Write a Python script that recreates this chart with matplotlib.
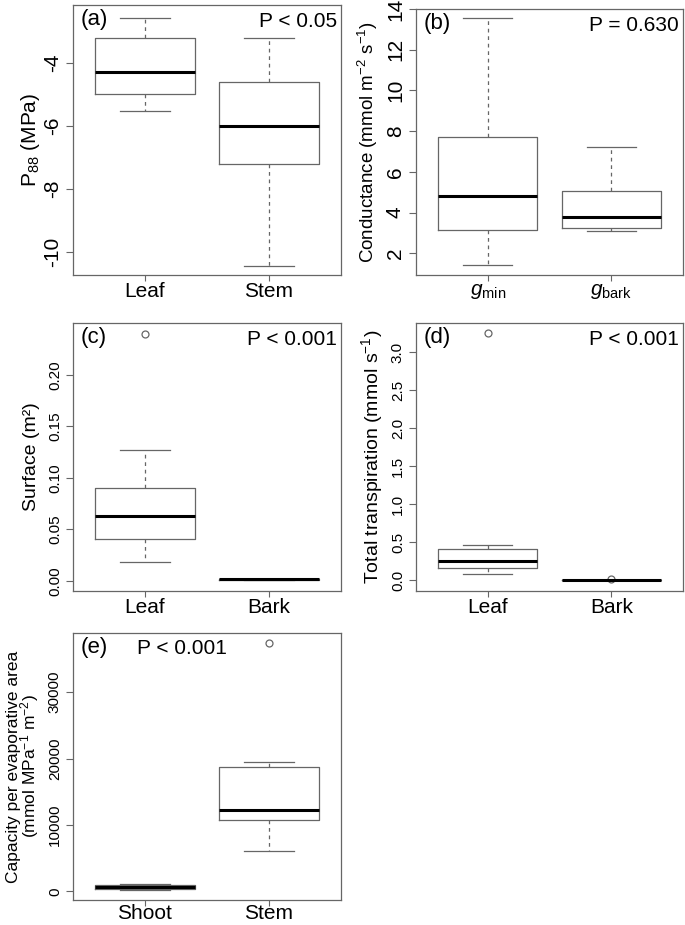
import matplotlib
matplotlib.use("Agg")
import matplotlib.pyplot as plt

plt.rcParams["font.family"] = ["Liberation Sans", "DejaVu Sans"]
plt.rcParams["mathtext.fontset"] = "custom"
plt.rcParams["mathtext.rm"] = "Liberation Sans"
plt.rcParams["mathtext.it"] = "Liberation Sans:italic"
plt.rcParams["axes.unicode_minus"] = False

# box stats: [lower whisker, Q1, median, Q3, upper whisker]
P88_LEAF = [-5.52, -4.99, -4.28, -3.20, -2.57]
P88_STEM = [-10.45, -7.20, -5.99, -4.59, -3.20]

G_MIN = [1.41, 3.13, 4.84, 7.70, 13.54]
G_BARK = [3.08, 3.23, 3.81, 5.04, 7.22]

SURF_LEAF = [0.0184, 0.0405, 0.0628, 0.0906, 0.1269]
SURF_BARK = [0.0010, 0.0012, 0.0016, 0.0019, 0.0022]
SURF_LEAF_OUT = [0.2398]

TRANS_LEAF = [0.083, 0.167, 0.254, 0.408, 0.465]
TRANS_BARK = [0.001, 0.002, 0.004, 0.006, 0.008]
TRANS_LEAF_OUT = [3.25]
TRANS_BARK_OUT = [0.015]

CAP_SHOOT = [150, 300, 600, 900, 1150]
CAP_STEM = [6131, 10754, 12261, 18744, 19548]
CAP_STEM_OUT = [37487]

GREY = "#666666"


def stats(vals, fliers=()):
    lo, q1, med, q3, hi = vals
    return dict(whislo=lo, q1=q1, med=med, q3=q3, whishi=hi, fliers=list(fliers))


def panel(ax, boxes, labels, ylim, yticks, ylabel, tag, ptext, ytick_size=15,
          ylabel_size=14, p_left=False, labelpad=2, xpad=0.5):
    ax.bxp(boxes, positions=[1, 2], widths=0.8, showfliers=True,
           boxprops=dict(color=GREY, lw=0.9),
           whiskerprops=dict(color=GREY, lw=0.9, linestyle=(0, (3, 3))),
           capprops=dict(color=GREY, lw=0.9),
           medianprops=dict(color="black", lw=2.2),
           flierprops=dict(marker="o", markersize=5, markerfacecolor="none",
                           markeredgecolor=GREY, markeredgewidth=0.9),
           capwidths=0.4)
    ax.set_xlim(0.42, 2.58)
    ax.set_ylim(*ylim)
    ax.set_xticks([1, 2])
    ax.set_xticklabels(labels, fontsize=15)
    ax.set_yticks(yticks)
    ax.tick_params(axis="y", labelsize=ytick_size, labelrotation=90, length=5,
                   color=GREY, pad=3)
    for t in ax.get_yticklabels():
        t.set_va("center")
    ax.tick_params(axis="x", length=4.2, color=GREY, pad=xpad)
    for s in ax.spines.values():
        s.set_color(GREY)
        s.set_linewidth(0.9)
    ax.set_ylabel(ylabel, fontsize=ylabel_size, labelpad=labelpad)
    ax.text(0.03, 0.985, tag, transform=ax.transAxes, fontsize=16,
            ha="left", va="top")
    if p_left:
        ax.text(0.24, 0.975, ptext, transform=ax.transAxes, fontsize=15,
                ha="left", va="top")
    else:
        ax.text(0.985, 0.975, ptext, transform=ax.transAxes, fontsize=15,
                ha="right", va="top")


fig = plt.figure(figsize=(6.85, 9.25), dpi=100)

ax_a = fig.add_axes([0.1066, 0.7027, 0.391, 0.2919])
panel(ax_a, [stats(P88_LEAF), stats(P88_STEM)], ["Leaf", "Stem"],
      (-10.73, -2.16), [-10, -8, -6, -4], r"P$_{88}$ (MPa)", "(a)", "P < 0.05",
      ylabel_size=15, labelpad=1)

ax_b = fig.add_axes([0.6073, 0.7027, 0.3898, 0.2876])
panel(ax_b, [stats(G_MIN), stats(G_BARK)],
      [r"$g_{\rm min}$", r"$g_{\rm bark}$"],
      (0.94, 13.96), [2, 4, 6, 8, 10, 12, 14],
      r"Conductance (mmol m$^{-2}$ s$^{-1}$)", "(b)", "P = 0.630",
      ylabel_size=13.5, labelpad=4)

ax_c = fig.add_axes([0.1066, 0.3611, 0.391, 0.2897])
panel(ax_c, [stats(SURF_LEAF, SURF_LEAF_OUT), stats(SURF_BARK)], ["Leaf", "Bark"],
      (-0.0097, 0.2502), [0.0, 0.05, 0.10, 0.15, 0.20],
      "Surface (m²)", "(c)", "P < 0.001", ytick_size=11, labelpad=6)
ax_c.set_yticklabels(["0.00", "0.05", "0.10", "0.15", "0.20"])

ax_d = fig.add_axes([0.6073, 0.3611, 0.3898, 0.2897])
panel(ax_d, [stats(TRANS_LEAF, TRANS_LEAF_OUT), stats(TRANS_BARK, TRANS_BARK_OUT)],
      ["Leaf", "Bark"], (-0.14, 3.38), [0, 0.5, 1.0, 1.5, 2.0, 2.5, 3.0],
      r"Total transpiration (mmol s$^{-1}$)", "(d)", "P < 0.001", ytick_size=11,
      labelpad=4)
ax_d.set_yticklabels(["0.0", "0.5", "1.0", "1.5", "2.0", "2.5", "3.0"])

ax_e = fig.add_axes([0.1066, 0.0265, 0.391, 0.2897])
panel(ax_e, [stats(CAP_SHOOT), stats(CAP_STEM, CAP_STEM_OUT)], ["Shoot", "Stem"],
      (-1357, 38995), [0, 10000, 20000, 30000],
      "Capacity per evaporative area\n" + r"(mmol MPa$^{-1}$ m$^{-2}$)",
      "(e)", "P < 0.001", ytick_size=11, ylabel_size=12.5, p_left=True,
      labelpad=5, xpad=-2)
ax_e.yaxis.label.set_linespacing(0.85)

fig.savefig("out.png", dpi=100)
